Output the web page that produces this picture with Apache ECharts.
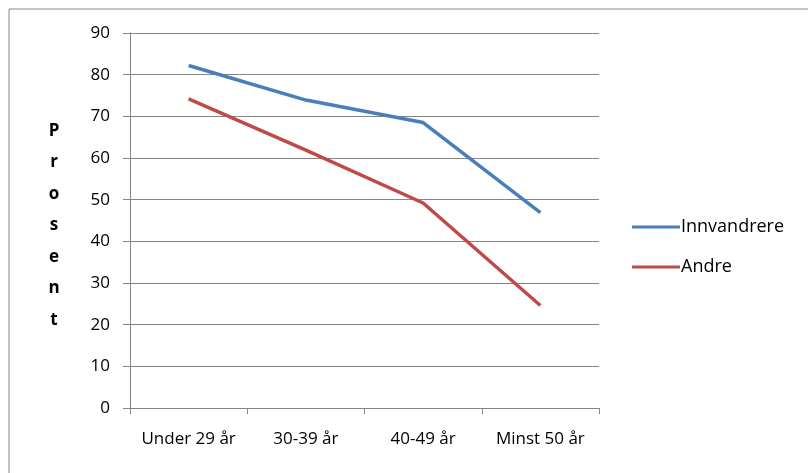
<!DOCTYPE html>
<html>
<head>
<meta charset="utf-8">
<script src="https://cdn.jsdelivr.net/npm/echarts@6/dist/echarts.min.js"></script>
<style>
html,body{margin:0;padding:0;background:#fff;}
#c{width:808px;height:473px;}
</style>
</head>
<body>
<div id="c"></div>
<script>
const categories = ['Under 29 år', '30-39 år', '40-49 år', 'Minst 50 år'];
const innvandrere = [82.2, 73.9, 68.5, 46.9];
const andre = [74.2, 61.9, 49.2, 24.6];
const seriesNames = ['Innvandrere', 'Andre'];
const yTitle = 'Prosent';

const chart = echarts.init(document.getElementById('c'));
const font = '"Open Sans", "DejaVu Sans", sans-serif';
chart.setOption({
  animation: false,
  grid: {left: 130, top: 33, width: 469, height: 375},
  graphic: [
    {type: 'rect', shape: {x: 9, y: 9, width: 900, height: 600},
     style: {fill: 'none', stroke: '#868686', lineWidth: 1}},
    {type: 'text', x: 54, y: 115,
     style: {text: yTitle.split('').join('\n'), font: 'bold 17px ' + font,
       lineHeight: 31.5, fill: '#000', align: 'center', verticalAlign: 'top'}}
  ],
  legend: {
    orient: 'vertical', left: 632, top: 217, itemGap: 20,
    itemWidth: 48, itemHeight: 14, padding: 0,
    icon: 'path://M0,6 L46,6 L46,9 L0,9 Z',
    textStyle: {fontFamily: font, fontSize: 18, lineHeight: 20, color: '#000', padding: [0,0,0,-4]},
    data: seriesNames
  },
  xAxis: {
    type: 'category', data: categories, boundaryGap: true,
    axisLine: {lineStyle: {color: '#868686'}},
    axisTick: {show: true, interval: 0, length: 6, lineStyle: {color: '#868686'}},
    axisLabel: {interval: 0, fontFamily: font, fontSize: 17, color: '#000', margin: 23}
  },
  yAxis: {
    type: 'value', min: 0, max: 90, interval: 10,
    axisLine: {show: true, lineStyle: {color: '#868686'}},
    axisTick: {show: true, length: 7, inside: false, lineStyle: {color: '#868686'}},
    axisLabel: {fontFamily: font, fontSize: 17, color: '#000', margin: 20},
    splitLine: {lineStyle: {color: '#868686'}}
  },
  series: [
    {name: seriesNames[0], type: 'line', data: innvandrere, showSymbol: false,
     lineStyle: {color: '#4a7ebb', width: 3.5}, itemStyle: {color: '#4a7ebb'}},
    {name: seriesNames[1], type: 'line', data: andre, showSymbol: false,
     lineStyle: {color: '#be4b48', width: 3.5}, itemStyle: {color: '#be4b48'}}
  ]
});
</script>
</body>
</html>
